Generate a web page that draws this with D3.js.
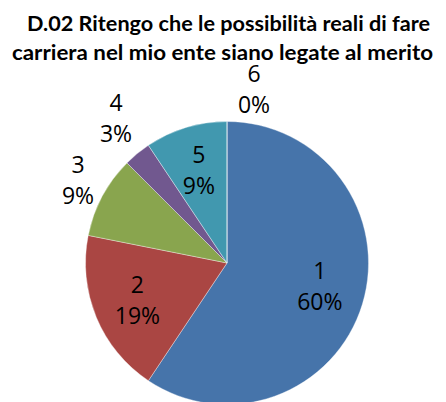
<!DOCTYPE html>
<html><head><meta charset="utf-8">
<script src="https://cdn.jsdelivr.net/npm/d3@7"></script>
<style>html,body{margin:0;padding:0;background:#fff}</style>
</head><body>
<script>
const title = ["D.02 Ritengo che le possibilità reali di fare", "carriera nel mio ente siano legate al merito"];
const categories = ["1", "2", "3", "4", "5", "6"];
const values = [19, 6, 3, 1, 3, 0];
const pctLabels = ["60%", "19%", "9%", "3%", "9%", "0%"];
const colors = ["#4674AA", "#AA4643", "#89A54E", "#71588F", "#4198AF", "#DB843D"];

const W = 446, H = 402;
const cx = 227, cy = 263, R = 141.5;

const svg = d3.select("body").append("svg").attr("width", W).attr("height", H);

const titleFont = "Lato, 'Open Sans', sans-serif";
svg.append("g").selectAll("text").data(title).join("text")
  .attr("x", (d, i) => i === 0 ? 228.5 : 222.5)
  .attr("y", (d, i) => i === 0 ? 31 : 59.5)
  .attr("text-anchor", "middle")
  .attr("font-family", titleFont)
  .attr("font-weight", "bold").attr("font-size", 21.5)
  .attr("textLength", (d, i) => i === 0 ? 403 : 421)
  .attr("lengthAdjust", "spacingAndGlyphs")
  .text(d => d);

const data = categories.map((c, i) => ({cat: c, value: values[i], pct: pctLabels[i], color: colors[i]}));
const pie = d3.pie().value(d => d.value).sort(null);
const arcs = pie(data);
const arc = d3.arc().innerRadius(0).outerRadius(R);

const g = svg.append("g").attr("transform", `translate(${cx},${cy})`);
g.selectAll("path").data(arcs).join("path")
  .attr("d", arc).attr("fill", d => d.data.color)
  .attr("stroke", "#ffffff").attr("stroke-width", 0.6).attr("stroke-opacity", 0.6);

const inner = d3.arc().innerRadius(97).outerRadius(97);
// first-line baseline position for each label
function labelPos(d) {
  if (d.data.cat === "6") return [27, -181];
  if (d.data.cat === "4") return [-111, -152];
  if (d.data.cat === "3") return [-149, -90];
  const c = inner.centroid(d);
  const adj = d.data.cat === "1" ? -5 : 0;
  return [c[0], c[1] - 7.5 + adj];
}
const labelFont = "'Open Sans', sans-serif";
const lab = g.selectAll("text.lab").data(arcs).join("text").attr("class", "lab")
  .attr("text-anchor", "middle")
  .attr("font-family", labelFont).attr("font-size", 23).attr("fill", "#000")
  .attr("transform", d => { const p = labelPos(d); return `translate(${p[0]},${p[1]})`; });
lab.append("tspan").attr("x", 0).attr("y", 0).text(d => d.data.cat);
lab.append("tspan").attr("x", 0).attr("y", 31).text(d => d.data.pct);
</script>
</body></html>
